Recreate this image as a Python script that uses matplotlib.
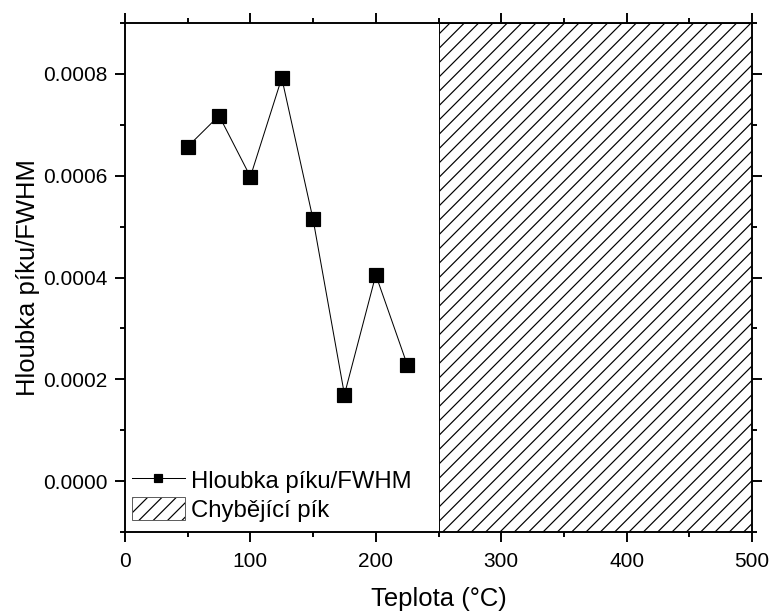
import matplotlib
matplotlib.use("Agg")
import matplotlib.pyplot as plt
from matplotlib.ticker import MultipleLocator

plt.rcParams['font.family'] = ['Liberation Sans', 'DejaVu Sans']

teplota = [50, 75, 100, 125, 150, 175, 200, 225]
hloubka = [0.000657, 0.000718, 0.000598, 0.000792, 0.000514, 0.000170, 0.000405, 0.000229]
chybi_od, chybi_do = 250, 500

dpi = 86
fig = plt.figure(figsize=(771 / dpi, 612 / dpi), dpi=dpi)
ax = fig.add_axes([125 / 771, 80 / 612, 627 / 771, 509 / 612])

ax.axvspan(chybi_od, chybi_do, facecolor='white', edgecolor='black',
           hatch='//', linewidth=0.8, label='Chybějící pík', zorder=1)
ax.plot(teplota, hloubka, color='black', linewidth=0.85, marker='s',
        markersize=11, label='Hloubka píku/FWHM', zorder=3)

ax.set_xlim(0, 500)
ax.set_ylim(-0.0001, 0.0009)
ax.xaxis.set_major_locator(MultipleLocator(100))
ax.xaxis.set_minor_locator(MultipleLocator(50))
ax.yaxis.set_major_locator(MultipleLocator(0.0002))
ax.yaxis.set_minor_locator(MultipleLocator(0.0001))
ax.yaxis.set_major_formatter(plt.FuncFormatter(lambda v, p: f"{v:.4f}"))

ax.tick_params(which='both', direction='out', top=True, right=True, width=1.6,
               labelsize=17.5)
ax.tick_params(which='major', length=8.4)
ax.tick_params(which='minor', length=4.2)
ax.tick_params(axis='x', which='major', pad=8)
ax.tick_params(axis='y', which='major', pad=6.5)
for s in ax.spines.values():
    s.set_linewidth(1.6)

ax.set_xlabel('Teplota (°C)', fontsize=21.5, labelpad=14)
ax.set_ylabel('Hloubka píku/FWHM', fontsize=21.5, labelpad=2.5)

h, l = ax.get_legend_handles_labels()
leg = ax.legend(h[::-1], l[::-1], loc='lower left', frameon=False, fontsize=20,
                handlelength=2.2, handleheight=1.1, handletextpad=0.25,
                labelspacing=0.2, borderpad=0, borderaxespad=0,
                markerscale=0.65, bbox_to_anchor=(7 / 627, 10 / 509))
leg.legend_handles[1].set_edgecolor('0.35')
leg.legend_handles[1]._hatch_color = (0, 0, 0, 1)

fig.savefig('out.png', dpi=dpi)
